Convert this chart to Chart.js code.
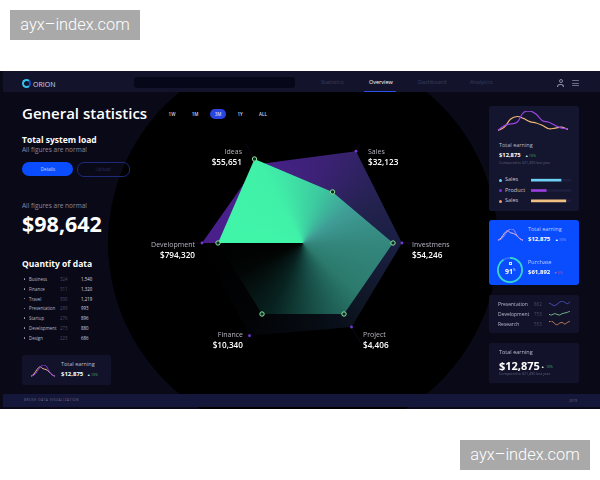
<!DOCTYPE html>
<html>
<head>
<meta charset="utf-8">
<script src="https://cdn.jsdelivr.net/npm/chart.js@4"></script>
<style>
  html, body { margin: 0; padding: 0; background: #fff; }
  body { width: 600px; height: 480px; position: relative; overflow: hidden; font-family: "Open Sans", sans-serif; }
  .wm { position: absolute; width: 130px; height: 30px; background: #a9a9a9; color: #fff; text-align: center; font: 300 16.4px/30px Roboto, sans-serif; }
  #dash { position: absolute; left: 0; top: 71px; width: 600px; height: 338px; background: #090918; overflow: hidden; }
  #disc { position: absolute; left: 108px; top: -23px; width: 390px; height: 390px; border-radius: 50%;
          background: radial-gradient(circle, #000 0 80%, #020207 88%, #060612 95%, #090918 100%); }
  #head { position: absolute; left: 3px; top: 0; right: 0; height: 21px; background: #13142c; }
  #foot { position: absolute; left: 3px; top: 323px; right: 0; height: 13px; background: #14163a; }
  .box { position: absolute; border-radius: 2px; }
  .t { position: absolute; white-space: nowrap; line-height: 1; transform: translateY(-50%); color: #fff; }
  .r { transform: translate(-100%, -50%); }
  canvas { position: absolute; }
</style>
</head>
<body>
<div class="wm" style="left:10px;top:10px">ayx–index.com</div>
<div class="wm" style="left:460px;top:440px">ayx–index.com</div>
<div id="dash">
  <div id="disc"></div>
  <div id="head"></div>
  <div id="foot"></div>
</div>
<script>
// radar: relative length of each spoke
const radarLabels = ['Sales', 'Investmens', 'Project', 'Finance', 'Development', 'Ideas'];
const radarAmounts = ['$32,123', '$54,246', '$4,406', '$10,340', '$794,320', '$55,651'];
const greenValues = [59, 90, 82, 82, 85, 97];
const purpleValues = [106, 99, 97, 107, 101, 91];

const rangeLabels = ['1W', '1M', '3M', '1Y', 'ALL'];
const navLabels = ['Statistics', 'Overview', 'Dashboard', 'Analytics'];

const qtyNames = ['Business', 'Finance', 'Travel', 'Presentation', 'Startup', 'Development', 'Design'];
const qtyCounts = ['324', '311', '300', '289', '276', '273', '223'];
const qtyTotals = ['1,540', '1,320', '1,219', '993', '896', '880', '686'];

// sparkline in the top right card
const earnPurple = [5, 20, 25, 30, 60, 65, 55, 35, 30, 20, 12, 10];
const earnOrange = [5, 15, 40, 48, 42, 32, 28, 20, 10, 12, 15, 8];
// smaller copies in the left and blue cards
const miniPurple = [2, 5, 14, 26, 32, 30, 16, 6, 2];
const miniOrange = [2, 8, 20, 27, 22, 20, 14, 6, 2];

const legendNames = ['Sales', 'Product', 'Sales'];
const legendValues = [75, 38, 87];
const legendColors = ['#6fd0f5', '#9a3fe0', '#f0c080'];

const rowNames = ['Presentation', 'Development', 'Research'];
const rowValues = ['862', '753', '553'];
const rowColors = ['#5560d8', '#8fe0a0', '#f09a60'];
const rowLines = [
  [6, 4, 2, 4, 7, 9, 7, 5, 8],
  [4, 3, 5, 4, 3, 5, 6, 7, 9],
  [7, 8, 5, 3, 5, 6, 4, 6, 8]
];
const donutValues = [91, 9];

const dash = document.getElementById('dash');

function text(str, x, y, size, color, weight, right) {
  const d = document.createElement('div');
  d.className = 't' + (right ? ' r' : '');
  d.textContent = str;
  d.style.left = x + 'px';
  d.style.top = (y - 71) + 'px';
  d.style.fontSize = size + 'px';
  d.style.color = color || '#fff';
  d.style.fontWeight = weight || 400;
  dash.appendChild(d);
  return d;
}

function box(x, y, w, h, bg, extra) {
  const d = document.createElement('div');
  d.className = 'box';
  d.style.cssText = `left:${x}px;top:${y - 71}px;width:${w}px;height:${h}px;background:${bg};${extra || ''}`;
  dash.appendChild(d);
  return d;
}

function canvas(x, y, w, h) {
  const c = document.createElement('canvas');
  c.width = w; c.height = h;
  c.style.cssText = `left:${x}px;top:${y - 71}px;width:${w}px;height:${h}px`;
  dash.appendChild(c);
  return c;
}

function spark(x, y, w, h, lines, colors, width) {
  new Chart(canvas(x, y, w, h), {
    type: 'line',
    data: {
      labels: lines[0].map((_, i) => i),
      datasets: lines.map((l, i) => ({
        data: l, borderColor: colors[i], borderWidth: width || 1, tension: 0.4, pointRadius: 0, fill: false
      }))
    },
    options: {
      responsive: false, animation: false,
      plugins: { legend: { display: false }, tooltip: { enabled: false } },
      layout: { padding: 1 },
      scales: { x: { display: false }, y: { display: false, min: 0, max: Math.max(...lines.flat()) } }
    }
  });
}

// ---- cards first, so the text sits on top
box(134, 77, 161, 11, '#07071a', 'border-radius:3px');
box(22, 355, 89, 30, '#12132b');
box(489, 106, 90, 105, '#14152e');
box(489, 220, 90, 65, '#0a4dff', 'border-radius:3px');
box(489, 295, 90, 38, '#12132b');
box(489, 343, 90, 40, '#12132b');
box(22, 162, 51, 14, '#0a4dff', 'border-radius:7px');
box(77, 162, 51, 13, 'transparent', 'border:1px solid #1c2a78;border-radius:7px');
box(210, 109, 16, 10, '#2a45e0', 'border-radius:5px');
box(364, 91, 32, 1, '#2a50e8');

// logo
box(22, 79, 9, 9, 'transparent', 'border-radius:50%;border:2px solid #35c0e8;box-sizing:border-box;border-right-color:#1050d0');

// ---- header
text('ORION', 33, 83.5, 7, '#d5d8e8');
const navX = [321, 369, 418, 470];
navLabels.forEach((n, i) => text(n, navX[i], 83, 5.5, i === 1 ? '#fff' : '#3a3c5c'));
text('2019', 569, 400.5, 3.5, '#6a6c8a');
text('BRUSH DATA VISUALIZATION', 24, 400.5, 3.2, '#6a6c8a').style.letterSpacing = '.5px';
box(558.5, 79, 4, 4, 'transparent', 'border:1px solid #8a8ca8;border-radius:50%;box-sizing:border-box');
box(557, 83.5, 7, 3, 'transparent', 'border:1px solid #8a8ca8;border-bottom:0;box-sizing:border-box;border-radius:3px 3px 0 0');
[80, 82.5, 85].forEach(y => box(572, y, 7, 1, '#6a6c8a'));

// ---- left column
text('General statistics', 22, 113, 15, '#fff', 600);
const rangeX = [172, 195, 218, 240, 263];
rangeLabels.forEach((n, i) => {
  const t = text(n, rangeX[i], 114, 4.5, '#d8d8e8', 600);
  t.style.transform = 'translate(-50%,-50%)';
});
text('Total system load', 22, 139.5, 8.5, '#fff', 700);
text('All figures are normal', 22, 150, 6.5, '#8a8ca0');
text('Details', 48, 169, 4.5, '#cfd8ff').style.transform = 'translate(-50%,-50%)';
text('Upload', 103, 169, 4.5, '#2a2f60').style.transform = 'translate(-50%,-50%)';
text('All figures are normal', 22, 205.5, 6.5, '#8a8ca0');
text('$98,642', 22, 224, 21.5, '#fff', 700);
text('Quantity of data', 22, 264, 8.5, '#fff', 700);
qtyNames.forEach((n, i) => {
  const y = 279 + i * 9.8;
  box(23.5, y - 0.8, 1.6, 1.6, '#aab', 'border-radius:50%');
  text(n, 29, y, 4.4, '#b8bacb');
  text(qtyCounts[i], 60, y, 4.4, '#4c4e68');
  text(qtyTotals[i], 81, y, 4.4, '#d8d8e4');
});
spark(30, 364, 26, 14, [miniPurple, miniOrange], ['#8a3fd8', '#f2b98a'], 1);
text('Total earning', 61, 365, 5.5, '#b8bacb');
text('$12,875', 61, 374, 6, '#fff', 700);
text('▲', 87, 375, 3.5, '#d8f0e0');
text('10%', 91, 375, 3.5, '#3fae6a');

// ---- radar
const cx = 303, cy = 243, rad = 115;
const radarCanvas = canvas(cx - rad, cy - rad, rad * 2, rad * 2);
const radar = new Chart(radarCanvas, {
  type: 'radar',
  data: {
    labels: radarLabels,
    datasets: [
      {
        data: greenValues, fill: true, borderWidth: 1, borderColor: 'rgba(0,0,0,0)',
        segment: { borderColor: c => c.p0DataIndex >= 4 ? '#4cf0a4' : 'rgba(0,0,0,0)' },
        pointRadius: 2.2, pointBorderWidth: 1, pointBorderColor: '#8ce89a', pointBackgroundColor: '#0f2b2a'
      },
      {
        data: purpleValues, fill: true, borderWidth: 0,
        pointRadius: 1.4, pointBorderWidth: 0, pointBackgroundColor: '#7a35d6'
      }
    ]
  },
  options: {
    responsive: false, animation: false,
    plugins: { legend: { display: false }, tooltip: { enabled: false } },
    scales: {
      r: {
        min: 0, max: 115, startAngle: 30,
        grid: { display: false },
        ticks: { display: false },
        pointLabels: { display: false },
        angleLines: { color: 'rgba(120,70,220,0.2)', lineWidth: 0.6 }
      }
    }
  }
});

function conic(stops) {
  const g = radar.ctx.createConicGradient(Math.PI, radar.scales.r.xCenter, radar.scales.r.yCenter);
  stops.forEach(s => g.addColorStop(s[0], s[1]));
  return g;
}
radar.data.datasets[0].backgroundColor = conic([
  [0, '#40f5a8'], [0.17, '#40f0a8'], [0.3, '#3dc9a0'], [0.4, '#3f9d96'], [0.5, '#34877d'],
  [0.62, '#2b7a6c'], [0.72, '#185048'], [0.82, '#082220'], [0.93, '#020605'], [1, '#000']
]);
radar.data.datasets[1].backgroundColor = conic([
  [0, '#4a1f8c'], [0.17, '#47208a'], [0.3, '#3a2272'], [0.42, '#23224f'], [0.5, '#1a1f42'],
  [0.62, '#0f1726'], [0.72, '#070c14'], [0.85, '#020305'], [1, '#000']
]);
radar.update('none');

const labelX = [368, 412, 363, 243, 195, 242];
const labelY = [151, 244, 334, 334, 244, 151];
const labelRight = [false, false, false, true, true, true];
radarLabels.forEach((n, i) => {
  text(n, labelX[i], labelY[i], 7, '#b5b6c0', 400, labelRight[i]);
  text(radarAmounts[i], labelX[i], labelY[i] + 11, 8.2, '#fff', 600, labelRight[i]);
});

// ---- right column
spark(497, 110, 72, 23, [earnPurple, earnOrange], ['#9a45e0', '#f0b878'], 1.2);
text('Total earning', 499, 146, 5.5, '#b8bacb');
text('$12,875', 499, 155.5, 5.8, '#fff', 700);
text('▲', 525, 156, 3.5, '#d8f0e0');
text('10%', 529, 156, 3.5, '#3fae6a');
text('Compared to $21,490 last year', 499, 163, 3.6, '#60627e');

const legY = [180, 190.5, 201];
const legDot = ['#6fd0f5', '#7a35d6', '#f09a70'];
legendNames.forEach((n, i) => {
  box(499, legY[i] - 1.5, 3, 3, legDot[i], 'border-radius:50%');
  text(n, 505, legY[i], 5.5, '#c4c6d6');
});
new Chart(canvas(531, 175, 40, 31), {
  type: 'bar',
  data: {
    labels: legendNames,
    datasets: [
      { data: legendValues, backgroundColor: legendColors, barThickness: 2, stack: 'a' },
      { data: legendValues.map(v => 100 - v), backgroundColor: '#1d1f3f', barThickness: 2, stack: 'a' }
    ]
  },
  options: {
    responsive: false, animation: false, indexAxis: 'y',
    plugins: { legend: { display: false }, tooltip: { enabled: false } },
    scales: {
      x: { display: false, stacked: true, min: 0, max: 100 },
      y: { display: false, stacked: true }
    }
  }
});

spark(497, 228, 27, 14, [miniPurple, miniOrange], ['#b08af0', '#f6c0d0'], 1);
text('Total earning', 528, 230, 5.5, '#b8ccff');
text('$12,875', 528, 239, 6, '#fff', 700);
text('▲', 555, 240, 3.5, '#fff');
text('10%', 559, 240, 3.5, '#8fb0ff');

new Chart(canvas(497, 257, 26, 26), {
  type: 'doughnut',
  data: { datasets: [{ data: donutValues, backgroundColor: ['#35d8d0', 'rgba(255,255,255,0.18)'], borderWidth: 0 }] },
  options: {
    responsive: false, animation: false, cutout: '86%',
    plugins: { legend: { display: false }, tooltip: { enabled: false } }
  }
});
box(508.5, 261.5, 3, 3, 'transparent', 'border:0.6px solid #dfe8ff;box-sizing:border-box;border-radius:0');
text('91', 509, 270.5, 7, '#fff', 700).style.transform = 'translate(-50%,-50%)';
text('%', 513, 269.5, 3, '#fff');
text('Purchase', 528, 263, 5.5, '#b8ccff');
text('$61,892', 528, 272, 6, '#fff', 700);
text('▼', 554, 272.5, 3.5, '#f0507a');
text('5%', 558, 272.5, 3.5, '#d8507a');

const rowY = [304, 314, 324];
rowNames.forEach((n, i) => {
  text(n, 498, rowY[i], 5, '#b8bacb');
  text(rowValues[i], 534, rowY[i], 4.5, '#4c4e68');
  spark(548, rowY[i] - 4, 23, 8, [rowLines[i]], [rowColors[i]], 0.8);
});

text('Total earning', 499, 353, 5.5, '#b8bacb');
text('$12,875', 499, 365, 11, '#fff', 700);
text('▲', 541, 367, 3.5, '#d8f0e0');
text('10%', 546, 367, 3.5, '#3fae6a');
text('Compared to $21,490 last year', 499, 374, 3.6, '#60627e');
</script>
</body>
</html>
